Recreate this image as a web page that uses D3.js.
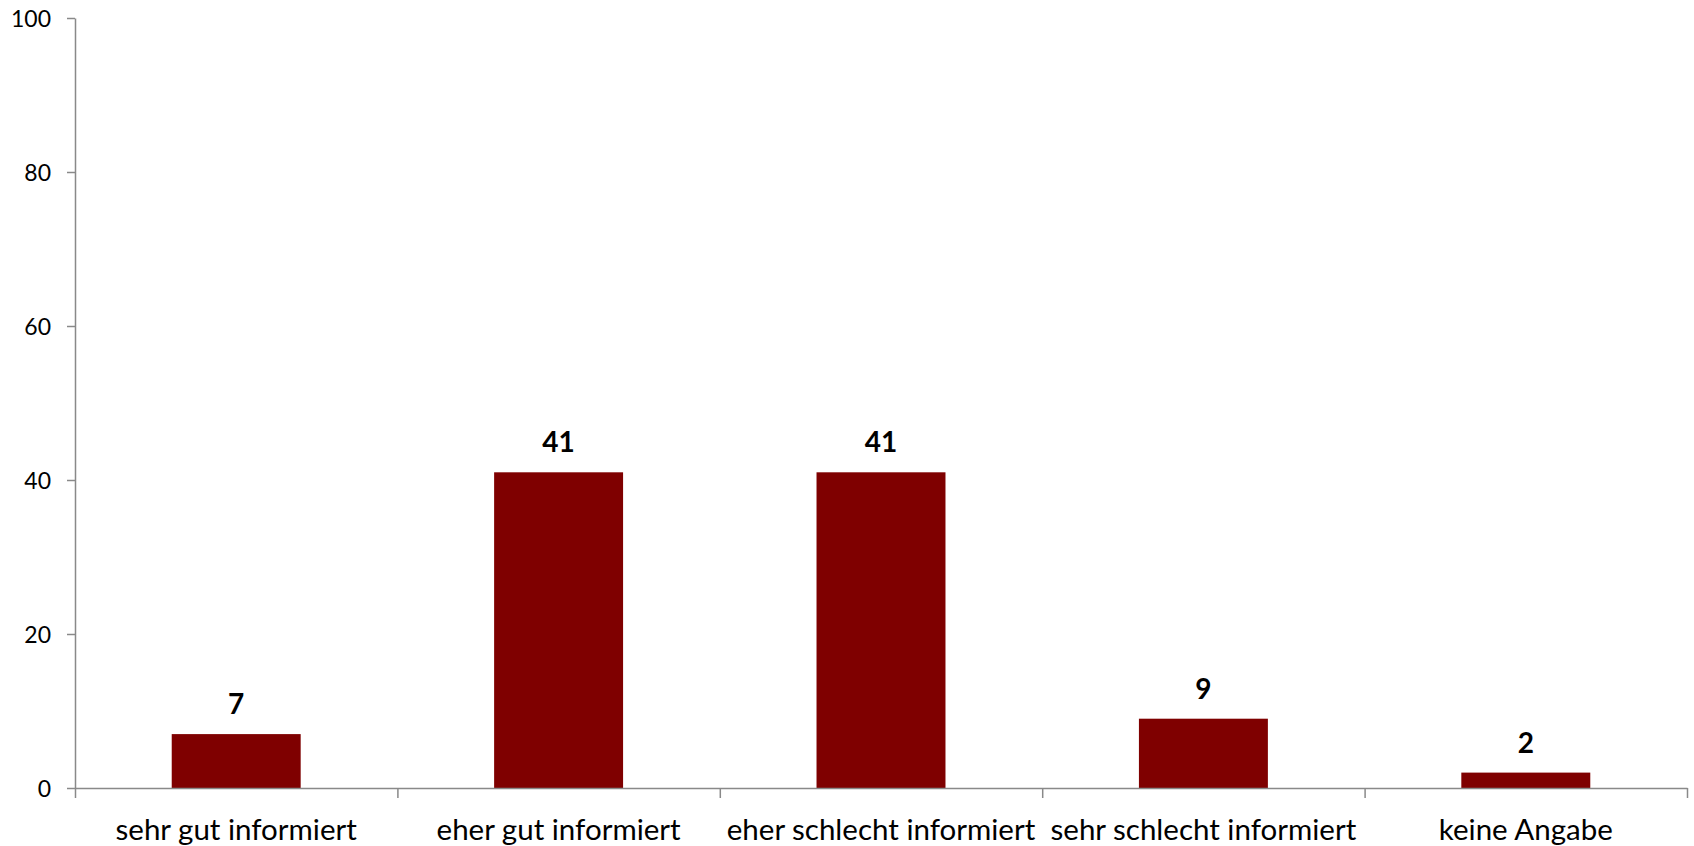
<!DOCTYPE html>
<html>
<head>
<meta charset="utf-8">
<script src="https://cdn.jsdelivr.net/npm/d3@7"></script>
<style>
  html, body { margin: 0; padding: 0; background: #fff; }
  svg { display: block; }
  text { font-family: Lato, "Open Sans", sans-serif; fill: #000; }
</style>
</head>
<body>
<svg id="chart" width="1694" height="846"></svg>
<script>
const categories = ["sehr gut informiert", "eher gut informiert", "eher schlecht informiert", "sehr schlecht informiert", "keine Angabe"];
const values = [7, 41, 41, 9, 2];
const yTicks = [0, 20, 40, 60, 80, 100];

const plotLeft = 75, plotRight = 1687, plotTop = 18, plotBottom = 788;
const svg = d3.select("#chart");

const x = d3.scaleBand().domain(categories).range([plotLeft, plotRight]).paddingInner(0.6).paddingOuter(0.3);
const y = d3.scaleLinear().domain([0, 100]).range([plotBottom, plotTop]);
const xb = d3.scaleLinear().domain([0, categories.length]).range([plotLeft, plotRight]);

const axisColor = "#898989";

// bars
svg.append("g").selectAll("rect").data(values).join("rect")
  .attr("x", (d, i) => x(categories[i]))
  .attr("y", d => y(d))
  .attr("width", x.bandwidth())
  .attr("height", d => y(0) - y(d))
  .attr("fill", "#7f0000");

// value labels
svg.append("g").selectAll("text").data(values).join("text")
  .attr("x", (d, i) => x(categories[i]) + x.bandwidth() / 2)
  .attr("y", d => y(d) - 20)
  .attr("text-anchor", "middle")
  .style("font-weight", "bold")
  .style("font-size", "28px")
  .text(d => d);

// y axis
const gy = svg.append("g").attr("transform", `translate(${plotLeft},0)`)
  .call(d3.axisLeft(y).tickValues(yTicks).tickSize(8).tickSizeOuter(0).tickPadding(16));
gy.selectAll("path, line").attr("stroke", axisColor).attr("stroke-width", 1.5);
gy.selectAll("text").style("font-size", "23px").attr("dy", "0.35em").attr("fill", "#000");

// x axis boundary ticks
const gx = svg.append("g").attr("transform", `translate(0,${plotBottom})`)
  .call(d3.axisBottom(xb).tickValues(d3.range(categories.length + 1)).tickSize(10).tickSizeOuter(0).tickFormat(""));
gx.selectAll("path, line").attr("stroke", axisColor).attr("stroke-width", 1.5);

// category labels
svg.append("g").selectAll("text").data(categories).join("text")
  .attr("x", d => x(d) + x.bandwidth() / 2)
  .attr("y", plotBottom + 52)
  .attr("text-anchor", "middle")
  .style("font-size", "29.5px")
  .text(d => d);
</script>
</body>
</html>
